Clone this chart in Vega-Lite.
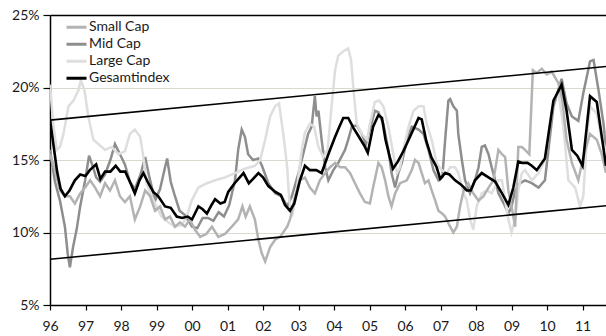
{
  "$schema": "https://vega.github.io/schema/vega-lite/v6.json",
  "width": 556,
  "height": 290,
  "autosize": {"type": "none"},
  "padding": {"left": 50, "top": 15, "right": 0, "bottom": 31},
  "background": "white",
  "config": {
    "view": {"stroke": null},
    "font": "Lato",
    "axis": {"labelFont": "Lato", "labelFontSize": 14, "labelColor": "#1a1a1a", "domainColor": "#000", "domainWidth": 1.5, "tickColor": "#000", "tickWidth": 1.2, "title": null},
    "legend": {"labelFont": "Lato", "labelFontSize": 14, "labelColor": "#1a1a1a"}
  },
  "datasets": {
    "trend": [
      {"b": "upper", "t": 1996.0, "v": 17.75},
      {"b": "upper", "t": 2011.66, "v": 21.45},
      {"b": "lower", "t": 1996.0, "v": 8.15},
      {"b": "lower", "t": 2011.66, "v": 11.85}
    ],
    "series": [
      {"s": "Gesamtindex", "t": 1996.00, "v": 17.8},
      {"s": "Gesamtindex", "t": 1996.10, "v": 16.0},
      {"s": "Gesamtindex", "t": 1996.20, "v": 14.2},
      {"s": "Gesamtindex", "t": 1996.30, "v": 13.0},
      {"s": "Gesamtindex", "t": 1996.42, "v": 12.5},
      {"s": "Gesamtindex", "t": 1996.55, "v": 12.9},
      {"s": "Gesamtindex", "t": 1996.70, "v": 13.6},
      {"s": "Gesamtindex", "t": 1996.85, "v": 14.0},
      {"s": "Gesamtindex", "t": 1997.00, "v": 13.9},
      {"s": "Gesamtindex", "t": 1997.12, "v": 14.3},
      {"s": "Gesamtindex", "t": 1997.30, "v": 14.7},
      {"s": "Gesamtindex", "t": 1997.42, "v": 13.7},
      {"s": "Gesamtindex", "t": 1997.55, "v": 14.2},
      {"s": "Gesamtindex", "t": 1997.70, "v": 14.2},
      {"s": "Gesamtindex", "t": 1997.85, "v": 14.6},
      {"s": "Gesamtindex", "t": 1997.98, "v": 14.2},
      {"s": "Gesamtindex", "t": 1998.12, "v": 14.2},
      {"s": "Gesamtindex", "t": 1998.25, "v": 13.5},
      {"s": "Gesamtindex", "t": 1998.39, "v": 12.7},
      {"s": "Gesamtindex", "t": 1998.52, "v": 13.6},
      {"s": "Gesamtindex", "t": 1998.63, "v": 14.1},
      {"s": "Gesamtindex", "t": 1998.77, "v": 13.4},
      {"s": "Gesamtindex", "t": 1998.91, "v": 12.8},
      {"s": "Gesamtindex", "t": 1999.05, "v": 12.5},
      {"s": "Gesamtindex", "t": 1999.24, "v": 11.8},
      {"s": "Gesamtindex", "t": 1999.40, "v": 11.7},
      {"s": "Gesamtindex", "t": 1999.57, "v": 11.1},
      {"s": "Gesamtindex", "t": 1999.72, "v": 11.0},
      {"s": "Gesamtindex", "t": 1999.88, "v": 11.1},
      {"s": "Gesamtindex", "t": 2000.00, "v": 10.9},
      {"s": "Gesamtindex", "t": 2000.18, "v": 11.8},
      {"s": "Gesamtindex", "t": 2000.30, "v": 11.6},
      {"s": "Gesamtindex", "t": 2000.42, "v": 11.3},
      {"s": "Gesamtindex", "t": 2000.55, "v": 11.9},
      {"s": "Gesamtindex", "t": 2000.65, "v": 12.3},
      {"s": "Gesamtindex", "t": 2000.80, "v": 12.0},
      {"s": "Gesamtindex", "t": 2000.92, "v": 12.1},
      {"s": "Gesamtindex", "t": 2001.02, "v": 12.8},
      {"s": "Gesamtindex", "t": 2001.20, "v": 13.4},
      {"s": "Gesamtindex", "t": 2001.45, "v": 14.1},
      {"s": "Gesamtindex", "t": 2001.60, "v": 13.4},
      {"s": "Gesamtindex", "t": 2001.72, "v": 13.7},
      {"s": "Gesamtindex", "t": 2001.87, "v": 14.1},
      {"s": "Gesamtindex", "t": 2002.00, "v": 13.8},
      {"s": "Gesamtindex", "t": 2002.15, "v": 13.2},
      {"s": "Gesamtindex", "t": 2002.35, "v": 12.8},
      {"s": "Gesamtindex", "t": 2002.50, "v": 12.6},
      {"s": "Gesamtindex", "t": 2002.62, "v": 11.9},
      {"s": "Gesamtindex", "t": 2002.76, "v": 11.5},
      {"s": "Gesamtindex", "t": 2002.88, "v": 12.0},
      {"s": "Gesamtindex", "t": 2003.04, "v": 13.6},
      {"s": "Gesamtindex", "t": 2003.18, "v": 14.6},
      {"s": "Gesamtindex", "t": 2003.32, "v": 14.3},
      {"s": "Gesamtindex", "t": 2003.50, "v": 14.3},
      {"s": "Gesamtindex", "t": 2003.65, "v": 14.1},
      {"s": "Gesamtindex", "t": 2003.84, "v": 15.4},
      {"s": "Gesamtindex", "t": 2004.03, "v": 16.6},
      {"s": "Gesamtindex", "t": 2004.15, "v": 17.3},
      {"s": "Gesamtindex", "t": 2004.26, "v": 17.9},
      {"s": "Gesamtindex", "t": 2004.40, "v": 17.9},
      {"s": "Gesamtindex", "t": 2004.55, "v": 17.2},
      {"s": "Gesamtindex", "t": 2004.70, "v": 16.6},
      {"s": "Gesamtindex", "t": 2004.85, "v": 16.0},
      {"s": "Gesamtindex", "t": 2004.95, "v": 15.5},
      {"s": "Gesamtindex", "t": 2005.10, "v": 17.3},
      {"s": "Gesamtindex", "t": 2005.25, "v": 18.1},
      {"s": "Gesamtindex", "t": 2005.35, "v": 17.9},
      {"s": "Gesamtindex", "t": 2005.45, "v": 16.4},
      {"s": "Gesamtindex", "t": 2005.57, "v": 15.2},
      {"s": "Gesamtindex", "t": 2005.66, "v": 14.4},
      {"s": "Gesamtindex", "t": 2005.80, "v": 14.9},
      {"s": "Gesamtindex", "t": 2005.95, "v": 15.6},
      {"s": "Gesamtindex", "t": 2006.14, "v": 16.6},
      {"s": "Gesamtindex", "t": 2006.38, "v": 17.9},
      {"s": "Gesamtindex", "t": 2006.47, "v": 17.8},
      {"s": "Gesamtindex", "t": 2006.60, "v": 16.3},
      {"s": "Gesamtindex", "t": 2006.74, "v": 15.2},
      {"s": "Gesamtindex", "t": 2006.89, "v": 14.5},
      {"s": "Gesamtindex", "t": 2006.99, "v": 13.7},
      {"s": "Gesamtindex", "t": 2007.13, "v": 14.1},
      {"s": "Gesamtindex", "t": 2007.25, "v": 14.0},
      {"s": "Gesamtindex", "t": 2007.41, "v": 13.6},
      {"s": "Gesamtindex", "t": 2007.58, "v": 13.3},
      {"s": "Gesamtindex", "t": 2007.74, "v": 12.9},
      {"s": "Gesamtindex", "t": 2007.85, "v": 12.9},
      {"s": "Gesamtindex", "t": 2007.97, "v": 13.6},
      {"s": "Gesamtindex", "t": 2008.16, "v": 14.1},
      {"s": "Gesamtindex", "t": 2008.35, "v": 13.8},
      {"s": "Gesamtindex", "t": 2008.54, "v": 13.5},
      {"s": "Gesamtindex", "t": 2008.73, "v": 12.7},
      {"s": "Gesamtindex", "t": 2008.91, "v": 11.9},
      {"s": "Gesamtindex", "t": 2009.05, "v": 13.1},
      {"s": "Gesamtindex", "t": 2009.19, "v": 14.9},
      {"s": "Gesamtindex", "t": 2009.30, "v": 14.8},
      {"s": "Gesamtindex", "t": 2009.45, "v": 14.8},
      {"s": "Gesamtindex", "t": 2009.57, "v": 14.6},
      {"s": "Gesamtindex", "t": 2009.71, "v": 14.3},
      {"s": "Gesamtindex", "t": 2009.94, "v": 15.1},
      {"s": "Gesamtindex", "t": 2010.18, "v": 19.1},
      {"s": "Gesamtindex", "t": 2010.41, "v": 20.2},
      {"s": "Gesamtindex", "t": 2010.55, "v": 18.4},
      {"s": "Gesamtindex", "t": 2010.70, "v": 15.7},
      {"s": "Gesamtindex", "t": 2010.85, "v": 15.3},
      {"s": "Gesamtindex", "t": 2011.00, "v": 14.6},
      {"s": "Gesamtindex", "t": 2011.21, "v": 19.4},
      {"s": "Gesamtindex", "t": 2011.40, "v": 19.0},
      {"s": "Gesamtindex", "t": 2011.53, "v": 16.8},
      {"s": "Gesamtindex", "t": 2011.66, "v": 14.6},

      {"s": "Mid Cap", "t": 1996.00, "v": 15.7},
      {"s": "Mid Cap", "t": 1996.14, "v": 13.5},
      {"s": "Mid Cap", "t": 1996.28, "v": 12.2},
      {"s": "Mid Cap", "t": 1996.42, "v": 10.4},
      {"s": "Mid Cap", "t": 1996.50, "v": 8.5},
      {"s": "Mid Cap", "t": 1996.56, "v": 7.6},
      {"s": "Mid Cap", "t": 1996.65, "v": 9.0},
      {"s": "Mid Cap", "t": 1996.75, "v": 10.2},
      {"s": "Mid Cap", "t": 1996.85, "v": 11.8},
      {"s": "Mid Cap", "t": 1996.99, "v": 13.6},
      {"s": "Mid Cap", "t": 1997.10, "v": 15.3},
      {"s": "Mid Cap", "t": 1997.20, "v": 14.6},
      {"s": "Mid Cap", "t": 1997.30, "v": 13.8},
      {"s": "Mid Cap", "t": 1997.41, "v": 13.5},
      {"s": "Mid Cap", "t": 1997.55, "v": 14.0},
      {"s": "Mid Cap", "t": 1997.70, "v": 15.0},
      {"s": "Mid Cap", "t": 1997.83, "v": 16.1},
      {"s": "Mid Cap", "t": 1997.97, "v": 15.4},
      {"s": "Mid Cap", "t": 1998.11, "v": 14.7},
      {"s": "Mid Cap", "t": 1998.25, "v": 13.5},
      {"s": "Mid Cap", "t": 1998.39, "v": 13.0},
      {"s": "Mid Cap", "t": 1998.55, "v": 14.0},
      {"s": "Mid Cap", "t": 1998.68, "v": 15.2},
      {"s": "Mid Cap", "t": 1998.80, "v": 13.8},
      {"s": "Mid Cap", "t": 1998.96, "v": 12.2},
      {"s": "Mid Cap", "t": 1999.10, "v": 13.0},
      {"s": "Mid Cap", "t": 1999.24, "v": 14.5},
      {"s": "Mid Cap", "t": 1999.30, "v": 15.1},
      {"s": "Mid Cap", "t": 1999.40, "v": 13.5},
      {"s": "Mid Cap", "t": 1999.52, "v": 12.5},
      {"s": "Mid Cap", "t": 1999.65, "v": 11.5},
      {"s": "Mid Cap", "t": 1999.80, "v": 11.2},
      {"s": "Mid Cap", "t": 2000.00, "v": 10.4},
      {"s": "Mid Cap", "t": 2000.15, "v": 10.3},
      {"s": "Mid Cap", "t": 2000.30, "v": 11.0},
      {"s": "Mid Cap", "t": 2000.45, "v": 11.0},
      {"s": "Mid Cap", "t": 2000.60, "v": 10.8},
      {"s": "Mid Cap", "t": 2000.75, "v": 11.4},
      {"s": "Mid Cap", "t": 2000.90, "v": 11.1},
      {"s": "Mid Cap", "t": 2001.05, "v": 11.9},
      {"s": "Mid Cap", "t": 2001.21, "v": 13.6},
      {"s": "Mid Cap", "t": 2001.30, "v": 15.7},
      {"s": "Mid Cap", "t": 2001.40, "v": 17.1},
      {"s": "Mid Cap", "t": 2001.49, "v": 16.6},
      {"s": "Mid Cap", "t": 2001.58, "v": 15.4},
      {"s": "Mid Cap", "t": 2001.72, "v": 15.0},
      {"s": "Mid Cap", "t": 2001.87, "v": 15.1},
      {"s": "Mid Cap", "t": 2001.97, "v": 14.6},
      {"s": "Mid Cap", "t": 2002.15, "v": 13.4},
      {"s": "Mid Cap", "t": 2002.34, "v": 12.7},
      {"s": "Mid Cap", "t": 2002.52, "v": 12.5},
      {"s": "Mid Cap", "t": 2002.68, "v": 11.8},
      {"s": "Mid Cap", "t": 2002.81, "v": 12.5},
      {"s": "Mid Cap", "t": 2003.00, "v": 14.1},
      {"s": "Mid Cap", "t": 2003.18, "v": 15.9},
      {"s": "Mid Cap", "t": 2003.27, "v": 16.8},
      {"s": "Mid Cap", "t": 2003.37, "v": 17.3},
      {"s": "Mid Cap", "t": 2003.46, "v": 19.4},
      {"s": "Mid Cap", "t": 2003.51, "v": 18.0},
      {"s": "Mid Cap", "t": 2003.56, "v": 18.4},
      {"s": "Mid Cap", "t": 2003.65, "v": 16.4},
      {"s": "Mid Cap", "t": 2003.75, "v": 14.5},
      {"s": "Mid Cap", "t": 2003.84, "v": 13.6},
      {"s": "Mid Cap", "t": 2003.98, "v": 14.3},
      {"s": "Mid Cap", "t": 2004.12, "v": 14.8},
      {"s": "Mid Cap", "t": 2004.31, "v": 15.7},
      {"s": "Mid Cap", "t": 2004.40, "v": 16.4},
      {"s": "Mid Cap", "t": 2004.50, "v": 17.3},
      {"s": "Mid Cap", "t": 2004.64, "v": 17.4},
      {"s": "Mid Cap", "t": 2004.78, "v": 16.8},
      {"s": "Mid Cap", "t": 2004.90, "v": 16.1},
      {"s": "Mid Cap", "t": 2005.01, "v": 17.1},
      {"s": "Mid Cap", "t": 2005.15, "v": 18.4},
      {"s": "Mid Cap", "t": 2005.25, "v": 18.3},
      {"s": "Mid Cap", "t": 2005.39, "v": 17.5},
      {"s": "Mid Cap", "t": 2005.53, "v": 15.7},
      {"s": "Mid Cap", "t": 2005.62, "v": 14.1},
      {"s": "Mid Cap", "t": 2005.72, "v": 13.1},
      {"s": "Mid Cap", "t": 2005.81, "v": 14.1},
      {"s": "Mid Cap", "t": 2005.91, "v": 14.8},
      {"s": "Mid Cap", "t": 2006.05, "v": 16.4},
      {"s": "Mid Cap", "t": 2006.19, "v": 17.3},
      {"s": "Mid Cap", "t": 2006.38, "v": 17.1},
      {"s": "Mid Cap", "t": 2006.52, "v": 16.8},
      {"s": "Mid Cap", "t": 2006.66, "v": 15.7},
      {"s": "Mid Cap", "t": 2006.80, "v": 14.3},
      {"s": "Mid Cap", "t": 2006.94, "v": 13.6},
      {"s": "Mid Cap", "t": 2007.05, "v": 13.8},
      {"s": "Mid Cap", "t": 2007.13, "v": 16.4},
      {"s": "Mid Cap", "t": 2007.22, "v": 19.1},
      {"s": "Mid Cap", "t": 2007.27, "v": 19.2},
      {"s": "Mid Cap", "t": 2007.36, "v": 18.7},
      {"s": "Mid Cap", "t": 2007.46, "v": 18.4},
      {"s": "Mid Cap", "t": 2007.50, "v": 16.8},
      {"s": "Mid Cap", "t": 2007.60, "v": 15.0},
      {"s": "Mid Cap", "t": 2007.69, "v": 13.6},
      {"s": "Mid Cap", "t": 2007.83, "v": 12.7},
      {"s": "Mid Cap", "t": 2007.97, "v": 13.6},
      {"s": "Mid Cap", "t": 2008.07, "v": 14.5},
      {"s": "Mid Cap", "t": 2008.16, "v": 15.9},
      {"s": "Mid Cap", "t": 2008.25, "v": 16.0},
      {"s": "Mid Cap", "t": 2008.35, "v": 15.4},
      {"s": "Mid Cap", "t": 2008.44, "v": 14.5},
      {"s": "Mid Cap", "t": 2008.54, "v": 13.6},
      {"s": "Mid Cap", "t": 2008.63, "v": 12.7},
      {"s": "Mid Cap", "t": 2008.82, "v": 11.8},
      {"s": "Mid Cap", "t": 2008.91, "v": 11.3},
      {"s": "Mid Cap", "t": 2009.00, "v": 11.8},
      {"s": "Mid Cap", "t": 2009.10, "v": 12.9},
      {"s": "Mid Cap", "t": 2009.24, "v": 13.4},
      {"s": "Mid Cap", "t": 2009.38, "v": 13.6},
      {"s": "Mid Cap", "t": 2009.57, "v": 13.4},
      {"s": "Mid Cap", "t": 2009.76, "v": 13.1},
      {"s": "Mid Cap", "t": 2009.94, "v": 13.6},
      {"s": "Mid Cap", "t": 2010.18, "v": 18.7},
      {"s": "Mid Cap", "t": 2010.41, "v": 20.6},
      {"s": "Mid Cap", "t": 2010.55, "v": 18.9},
      {"s": "Mid Cap", "t": 2010.70, "v": 18.0},
      {"s": "Mid Cap", "t": 2010.88, "v": 17.7},
      {"s": "Mid Cap", "t": 2011.02, "v": 19.6},
      {"s": "Mid Cap", "t": 2011.21, "v": 21.8},
      {"s": "Mid Cap", "t": 2011.31, "v": 21.9},
      {"s": "Mid Cap", "t": 2011.45, "v": 19.8},
      {"s": "Mid Cap", "t": 2011.59, "v": 17.5},
      {"s": "Mid Cap", "t": 2011.66, "v": 15.7},

      {"s": "Large Cap", "t": 1996.00, "v": 20.2},
      {"s": "Large Cap", "t": 1996.09, "v": 17.5},
      {"s": "Large Cap", "t": 1996.19, "v": 15.7},
      {"s": "Large Cap", "t": 1996.28, "v": 15.9},
      {"s": "Large Cap", "t": 1996.38, "v": 16.8},
      {"s": "Large Cap", "t": 1996.52, "v": 18.7},
      {"s": "Large Cap", "t": 1996.66, "v": 19.1},
      {"s": "Large Cap", "t": 1996.80, "v": 19.8},
      {"s": "Large Cap", "t": 1996.87, "v": 20.5},
      {"s": "Large Cap", "t": 1996.97, "v": 19.8},
      {"s": "Large Cap", "t": 1997.08, "v": 18.0},
      {"s": "Large Cap", "t": 1997.22, "v": 16.4},
      {"s": "Large Cap", "t": 1997.36, "v": 16.1},
      {"s": "Large Cap", "t": 1997.55, "v": 15.7},
      {"s": "Large Cap", "t": 1997.74, "v": 15.9},
      {"s": "Large Cap", "t": 1997.92, "v": 15.4},
      {"s": "Large Cap", "t": 1998.11, "v": 15.6},
      {"s": "Large Cap", "t": 1998.25, "v": 16.8},
      {"s": "Large Cap", "t": 1998.39, "v": 17.1},
      {"s": "Large Cap", "t": 1998.54, "v": 16.6},
      {"s": "Large Cap", "t": 1998.63, "v": 15.2},
      {"s": "Large Cap", "t": 1998.72, "v": 13.4},
      {"s": "Large Cap", "t": 1998.86, "v": 12.5},
      {"s": "Large Cap", "t": 1999.00, "v": 11.8},
      {"s": "Large Cap", "t": 1999.14, "v": 11.1},
      {"s": "Large Cap", "t": 1999.33, "v": 10.7},
      {"s": "Large Cap", "t": 1999.52, "v": 10.4},
      {"s": "Large Cap", "t": 1999.71, "v": 10.5},
      {"s": "Large Cap", "t": 1999.85, "v": 11.1},
      {"s": "Large Cap", "t": 1999.99, "v": 12.2},
      {"s": "Large Cap", "t": 2000.18, "v": 13.1},
      {"s": "Large Cap", "t": 2000.42, "v": 13.4},
      {"s": "Large Cap", "t": 2000.65, "v": 13.6},
      {"s": "Large Cap", "t": 2000.93, "v": 13.8},
      {"s": "Large Cap", "t": 2001.21, "v": 14.1},
      {"s": "Large Cap", "t": 2001.49, "v": 14.4},
      {"s": "Large Cap", "t": 2001.77, "v": 14.6},
      {"s": "Large Cap", "t": 2001.92, "v": 15.0},
      {"s": "Large Cap", "t": 2002.06, "v": 16.4},
      {"s": "Large Cap", "t": 2002.20, "v": 18.0},
      {"s": "Large Cap", "t": 2002.34, "v": 18.7},
      {"s": "Large Cap", "t": 2002.45, "v": 18.9},
      {"s": "Large Cap", "t": 2002.57, "v": 16.8},
      {"s": "Large Cap", "t": 2002.68, "v": 14.5},
      {"s": "Large Cap", "t": 2002.74, "v": 12.2},
      {"s": "Large Cap", "t": 2002.82, "v": 11.1},
      {"s": "Large Cap", "t": 2002.95, "v": 12.9},
      {"s": "Large Cap", "t": 2003.09, "v": 15.7},
      {"s": "Large Cap", "t": 2003.18, "v": 16.9},
      {"s": "Large Cap", "t": 2003.32, "v": 17.5},
      {"s": "Large Cap", "t": 2003.44, "v": 17.3},
      {"s": "Large Cap", "t": 2003.56, "v": 15.9},
      {"s": "Large Cap", "t": 2003.70, "v": 15.2},
      {"s": "Large Cap", "t": 2003.82, "v": 15.7},
      {"s": "Large Cap", "t": 2003.93, "v": 18.7},
      {"s": "Large Cap", "t": 2004.03, "v": 21.2},
      {"s": "Large Cap", "t": 2004.12, "v": 22.2},
      {"s": "Large Cap", "t": 2004.26, "v": 22.5},
      {"s": "Large Cap", "t": 2004.40, "v": 22.7},
      {"s": "Large Cap", "t": 2004.48, "v": 21.9},
      {"s": "Large Cap", "t": 2004.55, "v": 19.8},
      {"s": "Large Cap", "t": 2004.64, "v": 17.5},
      {"s": "Large Cap", "t": 2004.78, "v": 16.8},
      {"s": "Large Cap", "t": 2004.93, "v": 16.4},
      {"s": "Large Cap", "t": 2005.01, "v": 17.5},
      {"s": "Large Cap", "t": 2005.15, "v": 19.0},
      {"s": "Large Cap", "t": 2005.27, "v": 19.1},
      {"s": "Large Cap", "t": 2005.39, "v": 18.7},
      {"s": "Large Cap", "t": 2005.53, "v": 17.3},
      {"s": "Large Cap", "t": 2005.67, "v": 15.4},
      {"s": "Large Cap", "t": 2005.77, "v": 14.1},
      {"s": "Large Cap", "t": 2005.86, "v": 14.5},
      {"s": "Large Cap", "t": 2005.95, "v": 15.7},
      {"s": "Large Cap", "t": 2006.10, "v": 17.3},
      {"s": "Large Cap", "t": 2006.24, "v": 18.4},
      {"s": "Large Cap", "t": 2006.38, "v": 18.7},
      {"s": "Large Cap", "t": 2006.52, "v": 18.7},
      {"s": "Large Cap", "t": 2006.61, "v": 17.5},
      {"s": "Large Cap", "t": 2006.75, "v": 16.4},
      {"s": "Large Cap", "t": 2006.89, "v": 14.8},
      {"s": "Large Cap", "t": 2007.03, "v": 14.3},
      {"s": "Large Cap", "t": 2007.18, "v": 14.1},
      {"s": "Large Cap", "t": 2007.27, "v": 14.5},
      {"s": "Large Cap", "t": 2007.41, "v": 14.5},
      {"s": "Large Cap", "t": 2007.50, "v": 14.1},
      {"s": "Large Cap", "t": 2007.65, "v": 12.7},
      {"s": "Large Cap", "t": 2007.74, "v": 12.2},
      {"s": "Large Cap", "t": 2007.83, "v": 10.9},
      {"s": "Large Cap", "t": 2007.92, "v": 10.2},
      {"s": "Large Cap", "t": 2008.02, "v": 11.8},
      {"s": "Large Cap", "t": 2008.16, "v": 12.7},
      {"s": "Large Cap", "t": 2008.30, "v": 12.9},
      {"s": "Large Cap", "t": 2008.44, "v": 12.7},
      {"s": "Large Cap", "t": 2008.63, "v": 13.6},
      {"s": "Large Cap", "t": 2008.73, "v": 13.6},
      {"s": "Large Cap", "t": 2008.82, "v": 12.2},
      {"s": "Large Cap", "t": 2008.91, "v": 10.9},
      {"s": "Large Cap", "t": 2009.00, "v": 10.0},
      {"s": "Large Cap", "t": 2009.10, "v": 10.9},
      {"s": "Large Cap", "t": 2009.19, "v": 12.9},
      {"s": "Large Cap", "t": 2009.29, "v": 14.1},
      {"s": "Large Cap", "t": 2009.38, "v": 14.3},
      {"s": "Large Cap", "t": 2009.57, "v": 13.6},
      {"s": "Large Cap", "t": 2009.76, "v": 14.1},
      {"s": "Large Cap", "t": 2009.94, "v": 15.0},
      {"s": "Large Cap", "t": 2010.18, "v": 19.1},
      {"s": "Large Cap", "t": 2010.32, "v": 19.6},
      {"s": "Large Cap", "t": 2010.46, "v": 17.3},
      {"s": "Large Cap", "t": 2010.60, "v": 13.6},
      {"s": "Large Cap", "t": 2010.79, "v": 13.1},
      {"s": "Large Cap", "t": 2010.93, "v": 11.8},
      {"s": "Large Cap", "t": 2011.02, "v": 12.5},
      {"s": "Large Cap", "t": 2011.12, "v": 16.4},
      {"s": "Large Cap", "t": 2011.21, "v": 18.7},
      {"s": "Large Cap", "t": 2011.40, "v": 18.2},
      {"s": "Large Cap", "t": 2011.54, "v": 16.4},
      {"s": "Large Cap", "t": 2011.66, "v": 15.7},

      {"s": "Small Cap", "t": 1996.00, "v": 15.4},
      {"s": "Small Cap", "t": 1996.14, "v": 14.3},
      {"s": "Small Cap", "t": 1996.28, "v": 12.9},
      {"s": "Small Cap", "t": 1996.42, "v": 12.5},
      {"s": "Small Cap", "t": 1996.56, "v": 12.5},
      {"s": "Small Cap", "t": 1996.70, "v": 12.0},
      {"s": "Small Cap", "t": 1996.85, "v": 12.7},
      {"s": "Small Cap", "t": 1996.99, "v": 13.1},
      {"s": "Small Cap", "t": 1997.13, "v": 13.6},
      {"s": "Small Cap", "t": 1997.27, "v": 13.1},
      {"s": "Small Cap", "t": 1997.41, "v": 12.5},
      {"s": "Small Cap", "t": 1997.55, "v": 13.4},
      {"s": "Small Cap", "t": 1997.69, "v": 12.9},
      {"s": "Small Cap", "t": 1997.83, "v": 13.6},
      {"s": "Small Cap", "t": 1997.97, "v": 12.5},
      {"s": "Small Cap", "t": 1998.11, "v": 12.1},
      {"s": "Small Cap", "t": 1998.25, "v": 12.5},
      {"s": "Small Cap", "t": 1998.39, "v": 10.9},
      {"s": "Small Cap", "t": 1998.54, "v": 11.8},
      {"s": "Small Cap", "t": 1998.68, "v": 12.9},
      {"s": "Small Cap", "t": 1998.82, "v": 12.5},
      {"s": "Small Cap", "t": 1998.96, "v": 11.5},
      {"s": "Small Cap", "t": 1999.10, "v": 11.8},
      {"s": "Small Cap", "t": 1999.24, "v": 10.9},
      {"s": "Small Cap", "t": 1999.38, "v": 11.1},
      {"s": "Small Cap", "t": 1999.52, "v": 10.4},
      {"s": "Small Cap", "t": 1999.66, "v": 10.7},
      {"s": "Small Cap", "t": 1999.80, "v": 10.4},
      {"s": "Small Cap", "t": 1999.94, "v": 10.9},
      {"s": "Small Cap", "t": 2000.08, "v": 10.2},
      {"s": "Small Cap", "t": 2000.23, "v": 9.7},
      {"s": "Small Cap", "t": 2000.40, "v": 9.9},
      {"s": "Small Cap", "t": 2000.56, "v": 10.4},
      {"s": "Small Cap", "t": 2000.74, "v": 9.7},
      {"s": "Small Cap", "t": 2000.93, "v": 9.9},
      {"s": "Small Cap", "t": 2001.12, "v": 10.4},
      {"s": "Small Cap", "t": 2001.30, "v": 10.9},
      {"s": "Small Cap", "t": 2001.42, "v": 11.8},
      {"s": "Small Cap", "t": 2001.51, "v": 11.1},
      {"s": "Small Cap", "t": 2001.63, "v": 11.8},
      {"s": "Small Cap", "t": 2001.77, "v": 10.9},
      {"s": "Small Cap", "t": 2001.87, "v": 9.5},
      {"s": "Small Cap", "t": 2001.96, "v": 8.6},
      {"s": "Small Cap", "t": 2002.06, "v": 8.0},
      {"s": "Small Cap", "t": 2002.20, "v": 9.0},
      {"s": "Small Cap", "t": 2002.34, "v": 9.5},
      {"s": "Small Cap", "t": 2002.48, "v": 9.7},
      {"s": "Small Cap", "t": 2002.68, "v": 10.4},
      {"s": "Small Cap", "t": 2002.76, "v": 10.9},
      {"s": "Small Cap", "t": 2002.90, "v": 12.5},
      {"s": "Small Cap", "t": 2003.04, "v": 13.6},
      {"s": "Small Cap", "t": 2003.18, "v": 13.8},
      {"s": "Small Cap", "t": 2003.32, "v": 13.1},
      {"s": "Small Cap", "t": 2003.46, "v": 12.7},
      {"s": "Small Cap", "t": 2003.60, "v": 13.6},
      {"s": "Small Cap", "t": 2003.75, "v": 14.1},
      {"s": "Small Cap", "t": 2003.89, "v": 14.5},
      {"s": "Small Cap", "t": 2004.03, "v": 14.8},
      {"s": "Small Cap", "t": 2004.17, "v": 14.5},
      {"s": "Small Cap", "t": 2004.31, "v": 14.5},
      {"s": "Small Cap", "t": 2004.45, "v": 14.1},
      {"s": "Small Cap", "t": 2004.59, "v": 13.4},
      {"s": "Small Cap", "t": 2004.73, "v": 12.7},
      {"s": "Small Cap", "t": 2004.87, "v": 12.1},
      {"s": "Small Cap", "t": 2005.01, "v": 12.0},
      {"s": "Small Cap", "t": 2005.10, "v": 13.1},
      {"s": "Small Cap", "t": 2005.25, "v": 14.8},
      {"s": "Small Cap", "t": 2005.34, "v": 14.5},
      {"s": "Small Cap", "t": 2005.44, "v": 13.6},
      {"s": "Small Cap", "t": 2005.53, "v": 12.5},
      {"s": "Small Cap", "t": 2005.62, "v": 11.8},
      {"s": "Small Cap", "t": 2005.72, "v": 12.7},
      {"s": "Small Cap", "t": 2005.86, "v": 13.4},
      {"s": "Small Cap", "t": 2006.05, "v": 13.6},
      {"s": "Small Cap", "t": 2006.19, "v": 14.3},
      {"s": "Small Cap", "t": 2006.28, "v": 15.0},
      {"s": "Small Cap", "t": 2006.38, "v": 14.8},
      {"s": "Small Cap", "t": 2006.47, "v": 14.1},
      {"s": "Small Cap", "t": 2006.56, "v": 13.4},
      {"s": "Small Cap", "t": 2006.66, "v": 13.6},
      {"s": "Small Cap", "t": 2006.75, "v": 12.9},
      {"s": "Small Cap", "t": 2006.85, "v": 12.2},
      {"s": "Small Cap", "t": 2006.94, "v": 11.5},
      {"s": "Small Cap", "t": 2007.05, "v": 11.3},
      {"s": "Small Cap", "t": 2007.13, "v": 11.1},
      {"s": "Small Cap", "t": 2007.27, "v": 10.4},
      {"s": "Small Cap", "t": 2007.36, "v": 10.0},
      {"s": "Small Cap", "t": 2007.46, "v": 10.4},
      {"s": "Small Cap", "t": 2007.55, "v": 11.8},
      {"s": "Small Cap", "t": 2007.65, "v": 12.9},
      {"s": "Small Cap", "t": 2007.78, "v": 13.4},
      {"s": "Small Cap", "t": 2007.92, "v": 12.7},
      {"s": "Small Cap", "t": 2008.07, "v": 12.2},
      {"s": "Small Cap", "t": 2008.21, "v": 12.5},
      {"s": "Small Cap", "t": 2008.35, "v": 13.1},
      {"s": "Small Cap", "t": 2008.49, "v": 13.6},
      {"s": "Small Cap", "t": 2008.63, "v": 15.7},
      {"s": "Small Cap", "t": 2008.73, "v": 15.4},
      {"s": "Small Cap", "t": 2008.82, "v": 15.2},
      {"s": "Small Cap", "t": 2008.91, "v": 12.9},
      {"s": "Small Cap", "t": 2009.00, "v": 11.8},
      {"s": "Small Cap", "t": 2009.10, "v": 10.4},
      {"s": "Small Cap", "t": 2009.19, "v": 15.9},
      {"s": "Small Cap", "t": 2009.29, "v": 15.9},
      {"s": "Small Cap", "t": 2009.38, "v": 15.7},
      {"s": "Small Cap", "t": 2009.50, "v": 15.4},
      {"s": "Small Cap", "t": 2009.60, "v": 21.2},
      {"s": "Small Cap", "t": 2009.71, "v": 21.0},
      {"s": "Small Cap", "t": 2009.85, "v": 21.3},
      {"s": "Small Cap", "t": 2009.99, "v": 20.9},
      {"s": "Small Cap", "t": 2010.13, "v": 21.1},
      {"s": "Small Cap", "t": 2010.32, "v": 20.3},
      {"s": "Small Cap", "t": 2010.43, "v": 19.1},
      {"s": "Small Cap", "t": 2010.55, "v": 16.4},
      {"s": "Small Cap", "t": 2010.70, "v": 14.8},
      {"s": "Small Cap", "t": 2010.88, "v": 13.6},
      {"s": "Small Cap", "t": 2011.02, "v": 15.2},
      {"s": "Small Cap", "t": 2011.21, "v": 16.8},
      {"s": "Small Cap", "t": 2011.40, "v": 16.4},
      {"s": "Small Cap", "t": 2011.54, "v": 15.4},
      {"s": "Small Cap", "t": 2011.66, "v": 14.1}
    ]
  },
  "encoding": {
    "x": {
      "field": "t", "type": "quantitative",
      "scale": {"domain": [1996, 2011.66], "nice": false, "zero": false},
      "axis": {"values": [1996, 1997, 1998, 1999, 2000, 2001, 2002, 2003, 2004, 2005, 2006, 2007, 2008, 2009, 2010, 2011],
               "labelExpr": "(datum.value % 100 < 10 ? '0' : '') + (datum.value % 100)",
               "grid": false, "tickSize": 5, "labelPadding": 9, "labelFlush": false, "labelOverlap": false}
    },
    "y": {
      "field": "v", "type": "quantitative",
      "scale": {"domain": [5, 25], "nice": false, "zero": false},
      "axis": {"values": [5, 10, 15, 20, 25], "labelExpr": "datum.value + '%'", "tickSize": 7, "labelPadding": 4,
               "grid": true, "gridColor": {"condition": {"test": "datum.value == 25", "value": "#000000"}, "value": "#d9d9cf"},
               "gridWidth": {"condition": {"test": "datum.value == 25", "value": 1.5}, "value": 1.2}}
    }
  },
  "layer": [
    {
      "data": {"name": "series"},
      "transform": [{"filter": "datum.s != 'Gesamtindex'"}],
      "mark": {"type": "line", "strokeWidth": 2.5, "clip": true},
      "encoding": {
        "color": {"field": "s", "type": "nominal",
          "scale": {"domain": ["Small Cap", "Mid Cap", "Large Cap", "Gesamtindex"], "range": ["#b3b3b3", "#8e8e8e", "#dedede", "#000000"]},
          "legend": {"title": null, "orient": "none", "legendX": 15, "legendY": 4, "symbolType": "stroke", "symbolSize": 400, "symbolStrokeWidth": 3, "labelOffset": 1, "rowPadding": 0, "clipHeight": 16.3, "padding": 0}
        }
      }
    },
    {
      "data": {"name": "trend"},
      "mark": {"type": "line", "color": "#000000", "strokeWidth": 1.6, "clip": true},
      "encoding": {"detail": {"field": "b", "type": "nominal"}}
    },
    {
      "data": {"name": "series"},
      "transform": [{"filter": "datum.s == 'Gesamtindex'"}],
      "mark": {"type": "line", "strokeWidth": 2.6, "clip": true},
      "encoding": {
        "color": {"field": "s", "type": "nominal",
          "scale": {"domain": ["Small Cap", "Mid Cap", "Large Cap", "Gesamtindex"], "range": ["#b3b3b3", "#8e8e8e", "#dedede", "#000000"]}
        }
      }
    }
  ]
}
